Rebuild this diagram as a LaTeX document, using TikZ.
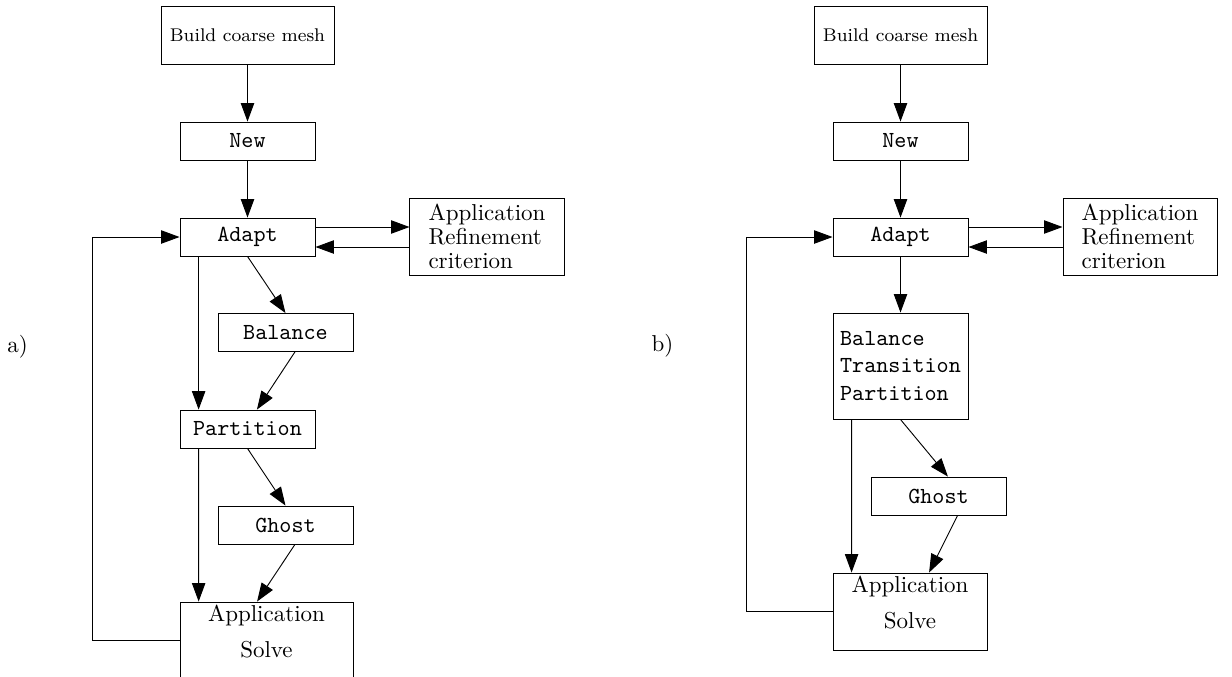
\documentclass[tikz,border=0pt]{standalone}
\usetikzlibrary{arrows.meta}
\tikzset{
    blk/.style={draw, rectangle, inner sep=0pt},
    call/.style={blk, font=\ttfamily, minimum width=58.7pt, minimum height=16.5pt},
    arr/.style={-{Triangle[length=8pt, width=5.8pt]}}
}
\newcommand*\solvetext{\begin{tabular}{@{}c@{}}Application\\[3.5pt]Solve\\[5.5pt]\end{tabular}}

\begin{document}
\begin{tikzpicture}[x=0.4348pt, y=-0.4348pt,
        crit/.style={blk, align=left, font={\fontsize{10}{10.4}\selectfont},
            minimum width=67pt, minimum height=33.5pt}]
    \useasboundingbox (0,0) rectangle (1232,676);
    \clip (0,0) rectangle (1232,676);
    % a) separate steps
    \node (laba) at (17.5,347) {a)};
    \node[blk, font=\footnotesize, minimum width=75.2pt, minimum height=25.2pt] (builda) at (247.5,35) {Build coarse mesh};
    \node[call] (newa) at (247.5,141) {New};
    \node[call] (adapta) at (247.5,237) {Adapt};
    \node[crit] (refa) at (487,236.5) {Application\\Refinement\\criterion};
    \node[call] (bala) at (285.5,332.5) {Balance};
    \node[call] (parta) at (247.5,429) {Partition};
    \node[call] (ghosta) at (285.5,525) {Ghost};
    \node[blk, minimum width=75.2pt, minimum height=33.5pt] (solvea) at (266.5,640.5) {\solvetext};
    \draw[arr] (builda) -- (newa);
    \draw[arr] (newa) -- (adapta);
    \draw[arr] ([yshift=4.35pt]adapta.east) -- ([yshift=4.35pt]adapta.east -| refa.west);
    \draw[arr] ([yshift=-4.35pt]adapta.east -| refa.west) -- ([yshift=-4.35pt]adapta.east);
    \draw[arr] (adapta.south) -- (bala.north);
    \draw[arr] ([xshift=8.3pt]adapta.south west) -- ([xshift=8.3pt]parta.north west);
    \draw[arr] ([xshift=4.1pt]bala.south) -- ([xshift=4.1pt]parta.north);
    \draw[arr] (parta.south) -- (ghosta.north);
    \draw[arr] ([xshift=8.3pt]parta.south west) -- ([xshift=8.3pt]solvea.north west);
    \draw[arr] ([xshift=4.1pt]ghosta.south) -- ([xshift=-4.1pt]solvea.north);
    \draw[arr] (solvea.west) -- ++(-87,0) |- (adapta.west);
    % b) merged steps
    \node (labb) at (662.5,346) {b)};
    \node[blk, font=\footnotesize, minimum width=75.2pt, minimum height=25.2pt] (buildb) at (900.5,35) {Build coarse mesh};
    \node[call] (newb) at (900.5,141) {New};
    \node[call] (adaptb) at (900.5,237) {Adapt};
    \node[crit] (refb) at (1140,236.5) {Application\\Refinement\\criterion};
    \node[call, align=left, minimum height=46.1pt] (btpb) at (900.5,366) {Balance\\Transition\\Partition};
    \node[call] (ghostb) at (938.5,496) {Ghost};
    \node[blk, minimum width=67pt, minimum height=33.5pt] (solveb) at (910,611.5) {\solvetext};
    \draw[arr] (buildb) -- (newb);
    \draw[arr] (newb) -- (adaptb);
    \draw[arr] ([yshift=4.35pt]adaptb.east) -- ([yshift=4.35pt]adaptb.east -| refb.west);
    \draw[arr] ([yshift=-4.35pt]adaptb.east -| refb.west) -- ([yshift=-4.35pt]adaptb.east);
    \draw[arr] (adaptb) -- (btpb);
    \draw[arr] (btpb.south) -- ([xshift=4.1pt]ghostb.north);
    \draw[arr] ([xshift=8.3pt]btpb.south west) -- ([xshift=8.3pt]solveb.north west);
    \draw[arr] ([xshift=8.3pt]ghostb.south) -- ([xshift=8.3pt]solveb.north);
    \draw[arr] (solveb.west) -- ++(-86,0) |- (adaptb.west);
\end{tikzpicture}
\end{document}
